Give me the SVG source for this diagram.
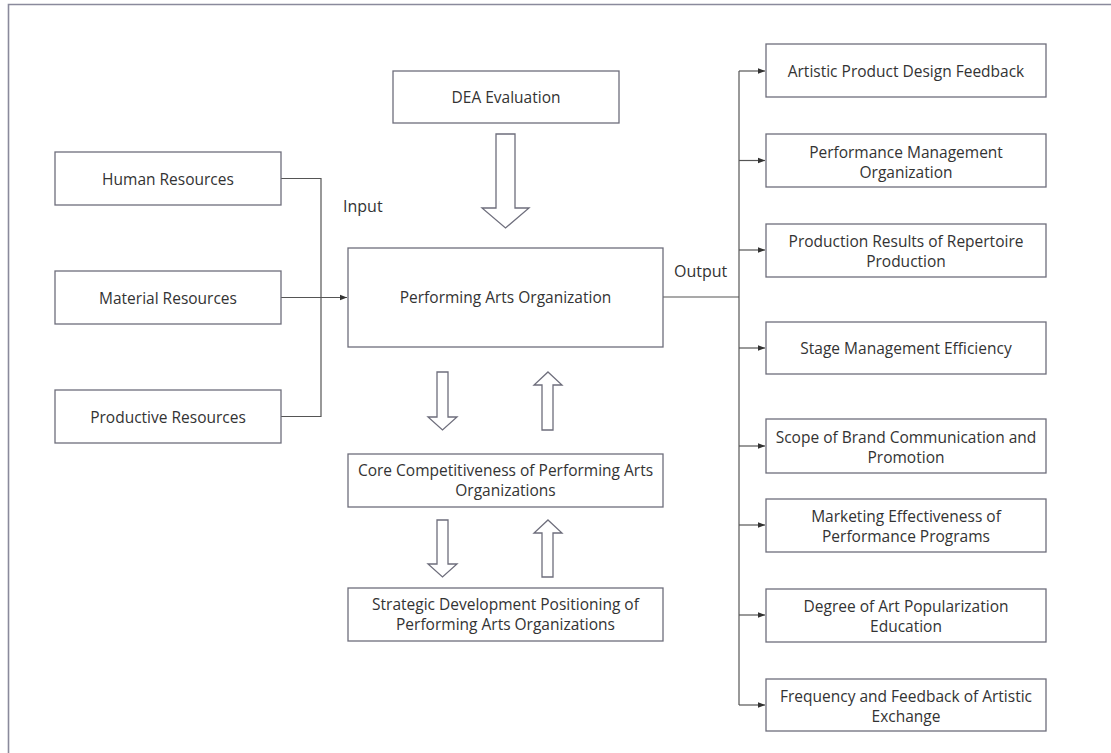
<svg xmlns="http://www.w3.org/2000/svg" width="1111" height="753" viewBox="0 0 1111 753">
<defs>
<style>
.box{fill:#fff;stroke:#6e6e7c;stroke-width:1.3}
.t{font-family:"Open Sans","Noto Sans","Liberation Sans",sans-serif;font-size:15.5px;fill:#333;text-anchor:middle}
.lab{font-family:"Open Sans","Noto Sans","Liberation Sans",sans-serif;font-size:16px;fill:#333}
.ln{fill:none;stroke:#555;stroke-width:1.2}
.blk{fill:#fff;stroke:#6e6e7c;stroke-width:1.3;stroke-linejoin:miter}
</style>
<marker id="ah" viewBox="0 0 10 10" refX="10" refY="5" markerWidth="7" markerHeight="7" markerUnits="userSpaceOnUse" orient="auto">
<path d="M0,1 L10,5 L0,9 Z" fill="#333"/>
</marker>
</defs>
<rect width="1111" height="753" fill="#fff"/>
<path d="M8.5,760 V4.5 H1120" fill="none" stroke="#8a8a9c" stroke-width="1.6"/>

<g id="connectors">
<path class="ln" d="M281,178.5 H321 V416.5 H281"/>
<path class="ln" d="M281,297.5 H347" marker-end="url(#ah)"/>
<path class="ln" d="M663,297 H739"/>
<path class="ln" d="M739,71 V705"/>
<path class="ln" d="M739,71 H765" marker-end="url(#ah)"/>
<path class="ln" d="M739,160.5 H765" marker-end="url(#ah)"/>
<path class="ln" d="M739,250 H765" marker-end="url(#ah)"/>
<path class="ln" d="M739,348 H765" marker-end="url(#ah)"/>
<path class="ln" d="M739,446 H765" marker-end="url(#ah)"/>
<path class="ln" d="M739,525 H765" marker-end="url(#ah)"/>
<path class="ln" d="M739,615 H765" marker-end="url(#ah)"/>
<path class="ln" d="M739,705 H765" marker-end="url(#ah)"/>
<path class="blk" d="M496,134 H515 V208 H529 L505.5,228 L482,208 H496 Z"/>
<path class="blk" d="M437,372 H448 V417 H457 L442.5,430 L428,417 H437 Z"/>
<path class="blk" d="M548,372 L562,385 H553 V430 H542 V385 H534 Z"/>
<path class="blk" d="M437,520 H448 V564 H457 L442.5,577 L428,564 H437 Z"/>
<path class="blk" d="M548,520 L562,533 H553 V577 H542 V533 H534 Z"/>
<text class="lab" x="343" y="212">Input</text>
<text class="lab" x="674" y="277">Output</text>
</g>

<g id="human"><rect class="box" x="55" y="152" width="226" height="53"/><text class="t" x="168" y="184.5">Human Resources</text></g>
<g id="material"><rect class="box" x="55" y="271" width="226" height="53"/><text class="t" x="168" y="303.5">Material Resources</text></g>
<g id="productive"><rect class="box" x="55" y="390" width="226" height="53"/><text class="t" x="168" y="422.5">Productive Resources</text></g>

<g id="dea"><rect class="box" x="393" y="71" width="226" height="52"/><text class="t" x="506" y="103">DEA Evaluation</text></g>
<g id="pao"><rect class="box" x="348" y="248" width="315" height="99"/><text class="t" x="505.5" y="303">Performing Arts Organization</text></g>
<g id="core"><rect class="box" x="348" y="454" width="315" height="53"/><text class="t" x="505.5" y="476">Core Competitiveness of Performing Arts</text><text class="t" x="505.5" y="496">Organizations</text></g>
<g id="strategic"><rect class="box" x="348" y="588" width="315" height="53"/><text class="t" x="505.5" y="610">Strategic Development Positioning of</text><text class="t" x="505.5" y="630">Performing Arts Organizations</text></g>

<g id="o1"><rect class="box" x="766" y="44" width="280" height="53"/><text class="t" x="906" y="76.5">Artistic Product Design Feedback</text></g>
<g id="o2"><rect class="box" x="766" y="134" width="280" height="53"/><text class="t" x="906" y="157.5">Performance Management</text><text class="t" x="906" y="177.5">Organization</text></g>
<g id="o3"><rect class="box" x="766" y="224" width="280" height="53"/><text class="t" x="906" y="247">Production Results of Repertoire</text><text class="t" x="906" y="267">Production</text></g>
<g id="o4"><rect class="box" x="766" y="322" width="280" height="52"/><text class="t" x="906" y="353.5">Stage Management Efficiency</text></g>
<g id="o5"><rect class="box" x="766" y="419" width="280" height="54"/><text class="t" x="906" y="442.5">Scope of Brand Communication and</text><text class="t" x="906" y="462.5">Promotion</text></g>
<g id="o6"><rect class="box" x="766" y="499" width="280" height="53"/><text class="t" x="906" y="522">Marketing Effectiveness of</text><text class="t" x="906" y="542">Performance Programs</text></g>
<g id="o7"><rect class="box" x="766" y="589" width="280" height="53"/><text class="t" x="906" y="612">Degree of Art Popularization</text><text class="t" x="906" y="632">Education</text></g>
<g id="o8"><rect class="box" x="766" y="679" width="280" height="52"/><text class="t" x="906" y="702">Frequency and Feedback of Artistic</text><text class="t" x="906" y="722">Exchange</text></g>
</svg>
